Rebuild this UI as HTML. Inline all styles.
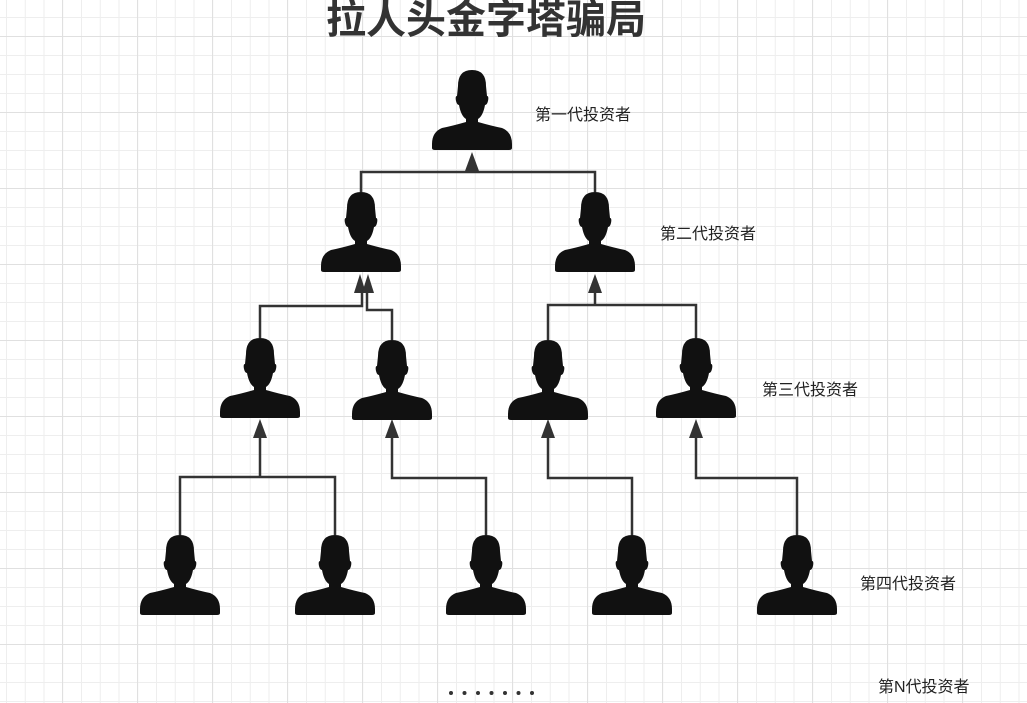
<!DOCTYPE html>
<html><head><meta charset="utf-8"><style>
html,body{margin:0;padding:0}
body{width:1027px;height:703px;overflow:hidden;background:#fff;
background-image:
linear-gradient(#e0e0e0 1px,transparent 1px),
linear-gradient(90deg,#e0e0e0 1px,transparent 1px),
linear-gradient(#eeeeee 1px,transparent 1px),
linear-gradient(90deg,#eeeeee 1px,transparent 1px);
background-size:76px 76px,75px 75px,19px 19px,18.75px 18.75px;
background-position:0 36px,62px 0,0 17px,6px 0;}
svg{position:absolute;left:0;top:0}
text{font-family:"Liberation Sans","Noto Sans CJK SC",sans-serif;fill:#222}
</style></head><body>
<svg width="1027" height="703" viewBox="0 0 1027 703">
<defs>
<g id="p">
<path d="M26,16 Q26,0 40,0 Q54,0 54,16 L55,26 Q57,26 56,31 Q55,35 53,35 Q51,46 46,49 L46,52 Q60,56 70,58 Q80,62 80,74 L80,78 Q80,80 77,80 L3,80 Q0,80 0,78 L0,74 Q0,62 10,58 Q20,56 34,52 L34,49 Q29,46 27,35 Q25,35 24,31 Q23,26 25,26 Z" fill="#111"/>
</g>
</defs>
<text x="486" y="33" text-anchor="middle" font-size="40" font-weight="bold" style="fill:#333">拉人头金字塔骗局</text>
<g fill="none" stroke="#333" stroke-width="2.5">
<path d="M472,170 V172 M361,192 V172 H595 V192"/>
<path d="M260,338 V306 H362 V292"/>
<path d="M392,340 V310 H367 V292"/>
<path d="M548,340 V305 H696 V338"/>
<path d="M595,305 V292"/>
<path d="M180,535 V477 H335 V535 M260,477 V437"/>
<path d="M486,535 V478 H392 V437"/>
<path d="M632,535 V478 H548 V437"/>
<path d="M797,535 V478 H696 V437"/>
</g>
<g fill="#333">
<path d="M472,152 L465,171 L479,171Z"/>
<path d="M360,274 L354,293 L366,293Z"/>
<path d="M368,274 L362,293 L374,293Z"/>
<path d="M595,274 L588,293 L602,293Z"/>
<path d="M260,419 L253,438 L267,438Z"/>
<path d="M392,419 L385,438 L399,438Z"/>
<path d="M548,419 L541,438 L555,438Z"/>
<path d="M696,419 L689,438 L703,438Z"/>
</g>
<use href="#p" x="432" y="70"/>
<use href="#p" x="321" y="192"/>
<use href="#p" x="555" y="192"/>
<use href="#p" x="220" y="338"/>
<use href="#p" x="352" y="340"/>
<use href="#p" x="508" y="340"/>
<use href="#p" x="656" y="338"/>
<use href="#p" x="140" y="535"/>
<use href="#p" x="295" y="535"/>
<use href="#p" x="446" y="535"/>
<use href="#p" x="592" y="535"/>
<use href="#p" x="757" y="535"/>
<g font-size="16">
<text x="535" y="120">第一代投资者</text>
<text x="660" y="239">第二代投资者</text>
<text x="762" y="395">第三代投资者</text>
<text x="860" y="589">第四代投资者</text>
<text x="878" y="692">第N代投资者</text>
</g>
<g fill="#333">
<circle cx="451" cy="693" r="2"/><circle cx="464.5" cy="693" r="2"/><circle cx="478" cy="693" r="2"/><circle cx="491.5" cy="693" r="2"/><circle cx="505" cy="693" r="2"/><circle cx="518.5" cy="693" r="2"/><circle cx="532" cy="693" r="2"/>
</g>
</svg>
</body></html>
